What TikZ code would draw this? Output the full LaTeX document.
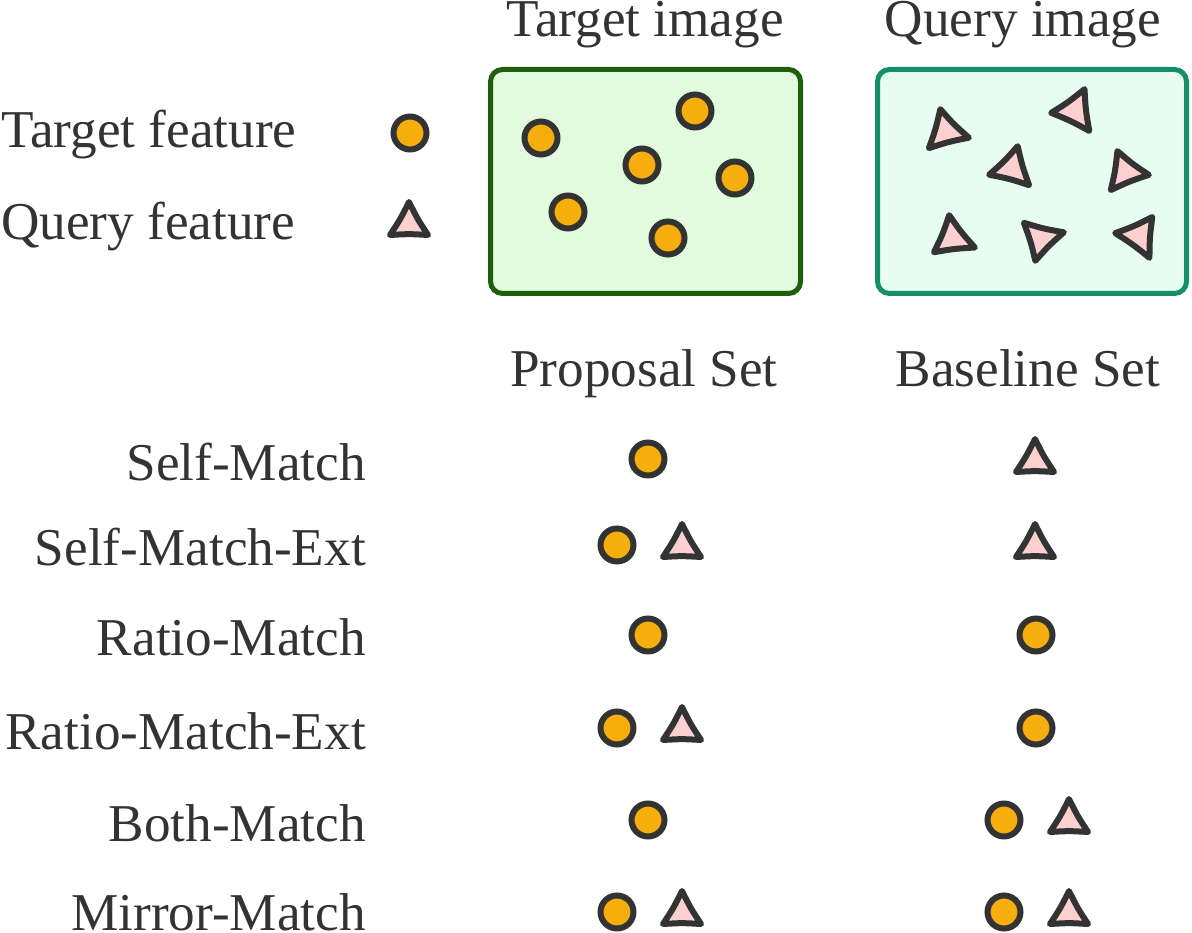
\documentclass[tikz,border=0pt]{standalone}
\usepackage{fontspec}
\setmainfont{Liberation Serif}
\usetikzlibrary{calc}
\definecolor{ink}{HTML}{333333}
\definecolor{orangefill}{HTML}{F5AE0E}
\definecolor{pinkfill}{HTML}{FDD0D0}
\definecolor{tgtline}{HTML}{1F5F0B}
\definecolor{tgtfill}{HTML}{E2FADE}
\definecolor{qryline}{HTML}{158F6A}
\definecolor{qryfill}{HTML}{E8FDF2}
\tikzset{
  lbl/.style={font=\fontsize{53.2}{60}\selectfont, text=ink, inner sep=0pt},
  feat/.style={circle, draw=ink, fill=orangefill, line width=6pt, minimum size=33pt, inner sep=0pt},
  trishape/.style={draw=ink, fill=pinkfill, line width=6pt, line join=round},
  imgbox/.style={rounded corners=12pt, line width=5pt},
}
% triangle with slightly concave sides: name, shrink factor, three vertices
\newcommand\qtri[5]{%
  \coordinate (#1-a0) at #3;
  \coordinate (#1-b0) at #4;
  \coordinate (#1-c0) at #5;
  \coordinate (#1) at (barycentric cs:#1-a0=1,#1-b0=1,#1-c0=1);
  \coordinate (#1-a) at ($(#1)!#2!(#1-a0)$);
  \coordinate (#1-b) at ($(#1)!#2!(#1-b0)$);
  \coordinate (#1-c) at ($(#1)!#2!(#1-c0)$);
  \draw[trishape] (#1-a) .. controls ($(#1-a)!0.5!(#1-b)!0.1!(#1)$) .. (#1-b)
     .. controls ($(#1-b)!0.5!(#1-c)!0.1!(#1)$) .. (#1-c)
     .. controls ($(#1-c)!0.5!(#1-a)!0.1!(#1)$) .. cycle;
}
\newcommand\utri[3]{\qtri{#1}{1}{({#2},{#3-22})}{({#2-19},{#3+11})}{({#2+19},{#3+11})}}
\begin{document}
\begin{tikzpicture}[x=1pt,y=-1pt]
\useasboundingbox (0,0) rectangle (1192,933);
% headers
\node[lbl, anchor=base] (timg) at (645,37) {Target image};
\node[lbl, anchor=base] (qimg) at (1023,37) {Query image};
% boxes
\draw[imgbox, draw=tgtline, fill=tgtfill] (490.5,69.5) rectangle (800.5,293.5);
\draw[imgbox, draw=qryline, fill=qryfill] (877.5,69.5) rectangle (1186.5,293.5);
% legend
\node[lbl, anchor=base west] (lt) at (1,148) {Target feature};
\node[lbl, anchor=base west] (lq) at (1,240) {Query feature};
\node[feat] (legc) at (410,133) {};
\utri{legt}{409}{224}
% target features
\node[feat] (t1) at (541,138) {};
\node[feat] (t2) at (695,111) {};
\node[feat] (t3) at (642,165) {};
\node[feat] (t4) at (735,178) {};
\node[feat] (t5) at (568,212) {};
\node[feat] (t6) at (668,238) {};
% query features
\qtri{q1}{0.95}{(940,108)}{(970,138)}{(928,149)}
\qtri{q2}{0.95}{(1085,88)}{(1090,132)}{(1050,113)}
\qtri{q3}{0.95}{(1018,145)}{(1030,186)}{(988,175)}
\qtri{q4}{0.95}{(1117,150)}{(1150,175)}{(1110,191)}
\qtri{q5}{0.95}{(949,214)}{(976,248)}{(933,253)}
\qtri{q6}{0.95}{(1023,222)}{(1065,232)}{(1035,262)}
\qtri{q7}{0.95}{(1153,216)}{(1150,259)}{(1114,233)}
% column headers
\node[lbl, anchor=base] (ps) at (644,387) {Proposal Set};
\node[lbl, anchor=base] (bs) at (1028,387) {Baseline Set};
% rows
\node[lbl, anchor=base east] (r1) at (366,480) {Self-Match};
\node[lbl, anchor=base east] (r2) at (366,565) {Self-Match-Ext};
\node[lbl, anchor=base east] (r3) at (366,655) {Ratio-Match};
\node[lbl, anchor=base east] (r4) at (366,749) {Ratio-Match-Ext};
\node[lbl, anchor=base east] (r5) at (366,841) {Both-Match};
\node[lbl, anchor=base east] (r6) at (366,930) {Mirror-Match};
% row 1
\node[feat] (p1c) at (648,459) {};
\utri{b1t}{1035}{461}
% row 2
\node[feat] (p2c) at (617,545) {};
\utri{p2t}{682}{546}
\utri{b2t}{1035}{546}
% row 3
\node[feat] (p3c) at (648,635) {};
\node[feat] (b3c) at (1036,635) {};
% row 4
\node[feat] (p4c) at (617,728) {};
\utri{p4t}{682}{729}
\node[feat] (b4c) at (1036,728) {};
% row 5
\node[feat] (p5c) at (648,820) {};
\node[feat] (b5c) at (1004,820) {};
\utri{b5t}{1069}{821}
% row 6
\node[feat] (p6c) at (617,912) {};
\utri{p6t}{682}{913}
\node[feat] (b6c) at (1004,912) {};
\utri{b6t}{1069}{913}
\end{tikzpicture}
\end{document}
